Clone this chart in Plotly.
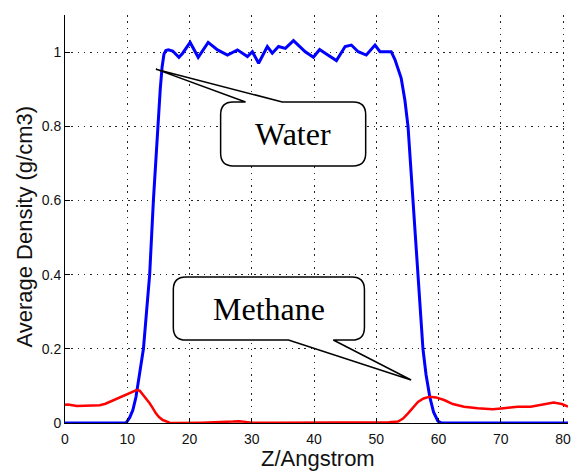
import plotly.graph_objects as go

# ---------------- data ----------------
water_z = [0, 5, 9.0, 9.8, 10.4, 10.9, 11.4, 11.9, 12.3, 12.6, 13.1, 13.6, 14.2, 14.9,
           15.3, 15.6, 15.9, 16.2, 16.6, 17.3, 18.3, 18.9, 20.1, 21.4, 23.0, 24.5,
           26.1, 27.7, 29.3, 30.1, 31.1, 32.5, 33.3, 34.3, 35.4, 36.7, 37.5, 38.6,
           39.9, 40.9, 41.8, 43.6, 45.0, 46.0, 47.1, 48.4, 49.8, 50.6, 51.6, 52.4,
           53.0, 53.5, 54.0, 54.6, 55.1, 55.5, 55.9, 56.25, 56.6, 57.0, 57.5, 58.0,
           58.6, 59.2, 59.9, 60.5, 65, 70, 75, 80.8]
water_rho = [0, 0, 0, 0.0, 0.015, 0.035, 0.07, 0.12, 0.16, 0.2, 0.3, 0.4, 0.6, 0.8,
             0.9, 0.96, 0.995, 1.004, 1.006, 1.003, 0.986, 0.997, 1.026, 0.986, 1.026, 1.006,
             0.992, 1.006, 0.988, 1.001, 0.970, 1.015, 0.997, 1.015, 1.010, 1.031, 1.019, 1.001,
             0.986, 1.007, 0.997, 0.977, 1.015, 1.019, 1.001, 0.992, 1.019, 1.001, 1.001, 1.001,
             0.98, 0.955, 0.93, 0.87, 0.80, 0.70, 0.60, 0.50, 0.40, 0.30, 0.20, 0.13,
             0.07, 0.03, 0.005, 0, 0, 0, 0, 0]

methane_z = [0, 0.5, 1.9, 3.0, 4.0, 5.6, 6.5, 7.2, 8.0, 8.8, 10.1, 11.0, 11.5, 12.0,
             12.5, 13.0, 13.6, 14.1, 14.6, 15.1, 15.7, 16.8, 18, 22, 26, 27, 28, 29,
             30, 34, 38, 42, 46, 50, 52, 53.5, 54.3, 55.1, 55.9, 56.7, 57.6, 58.6,
             59.6, 60.9, 62.3, 64.1, 66.3, 68.7, 70.5, 72.7, 74.8, 76.9, 78.5, 79.8, 80.8]
methane_rho = [0.049, 0.050, 0.046, 0.047, 0.046, 0.048, 0.052, 0.057, 0.063, 0.069, 0.077, 0.084, 0.089, 0.087,
               0.077, 0.068, 0.053, 0.040, 0.026, 0.016, 0.008, 0.001, 0.0, 0.001, 0.002, 0.004, 0.005, 0.003,
               0.001, 0.001, 0.001, 0.001, 0.001, 0.002, 0.002, 0.004, 0.012, 0.026, 0.042, 0.057, 0.066, 0.071,
               0.069, 0.062, 0.051, 0.044, 0.040, 0.037, 0.040, 0.044, 0.044, 0.051, 0.055, 0.051, 0.044]

x_ticks = [0, 10, 20, 30, 40, 50, 60, 70, 80]
y_ticks = [0, 0.2, 0.4, 0.6, 0.8, 1.0]
y_tick_text = ["0", "0.2", "0.4", "0.6", "0.8", "1"]

labels = ["Water", "Methane"]

# ---------------- callout geometry (data units) ----------------
X_RANGE = [0, 80.8]
Y_RANGE = [0, 1.1]
RX, RY = 2.0, 0.034  # corner radius

# box: x0, x1, y0 (bottom), y1 (top); pointer base on 'top' or 'bottom' edge
water_box = dict(x0=25.0, x1=48.3, y0=0.693, y1=0.8655, side="top", b1=29.0, b2=34.9, tip=(14.6, 0.954))
methane_box = dict(x0=17.4, x1=48.1, y0=0.2238, y1=0.3936, side="bottom", b1=35.9, b2=43.1, tip=(55.6, 0.116))


def balloon(b):
    x0, x1, y0, y1 = b["x0"], b["x1"], b["y0"], b["y1"]
    tx, ty = b["tip"]
    p = [f"M{x0 + RX},{y1}"]
    if b["side"] == "top":
        p += [f"L{b['b1']},{y1}", f"L{tx},{ty}", f"L{b['b2']},{y1}"]
    p += [f"L{x1 - RX},{y1}", f"Q{x1},{y1} {x1},{y1 - RY}",
          f"L{x1},{y0 + RY}", f"Q{x1},{y0} {x1 - RX},{y0}"]
    if b["side"] == "bottom":
        p += [f"L{b['b2']},{y0}", f"L{tx},{ty}", f"L{b['b1']},{y0}"]
    p += [f"L{x0 + RX},{y0}", f"Q{x0},{y0} {x0},{y0 + RY}",
          f"L{x0},{y1 - RY}", f"Q{x0},{y1} {x0 + RX},{y1}", "Z"]
    return " ".join(p)


fig = go.Figure()
fig.add_trace(go.Scatter(x=water_z, y=water_rho, mode="lines",
                         line=dict(color="#0000FF", width=3), showlegend=False))
fig.add_trace(go.Scatter(x=methane_z, y=methane_rho, mode="lines",
                         line=dict(color="#FF0000", width=2.5), showlegend=False))

shapes = []
annotations = []
for b, lab in zip([water_box, methane_box], labels):
    shapes.append(dict(type="path", xref="x", yref="y", path=balloon(b),
                       fillcolor="white", line=dict(color="black", width=1.5), layer="above"))
    annotations.append(dict(x=(b["x0"] + b["x1"]) / 2, y=(b["y0"] + b["y1"]) / 2, xref="x", yref="y",
                            text=lab, showarrow=False, xanchor="center", yanchor="middle",
                            font=dict(family="Liberation Serif, Times New Roman, serif", size=32, color="black")))

annotations.append(dict(text="Z/Angstrom", x=0.503, y=-0.088, xref="paper", yref="paper",
                        xanchor="center", yanchor="middle", showarrow=False,
                        font=dict(family="Liberation Sans, Arial, sans-serif", size=22, color="#111")))
annotations.append(dict(text="Average Density (g/cm3)", x=-0.081, y=0.482, xref="paper", yref="paper",
                        xanchor="center", yanchor="middle", showarrow=False, textangle=-90,
                        font=dict(family="Liberation Sans, Arial, sans-serif", size=22, color="#111")))

fig.update_layout(
    width=571, height=472,
    margin=dict(l=65, r=0, t=15, b=49),
    paper_bgcolor="white", plot_bgcolor="white",
    font=dict(family="Liberation Sans, Arial, sans-serif", size=14, color="#111"),
    shapes=shapes, annotations=annotations,
)
axis_common = dict(showline=True, linecolor="black", linewidth=1, mirror=False,
                   ticks="inside", ticklen=5, tickcolor="black", tickwidth=1,
                   showgrid=True, gridcolor="#222", gridwidth=1, griddash="1.5px,4.8px",
                   zeroline=False, tickfont=dict(size=14, color="#111"),
                   ticklabeloverflow="allow")
fig.update_xaxes(range=X_RANGE, tickvals=x_ticks, ticklabelstandoff=3, **axis_common)
fig.update_yaxes(range=Y_RANGE, tickvals=y_ticks, ticktext=y_tick_text, **axis_common)

fig.write_html("out.html")
